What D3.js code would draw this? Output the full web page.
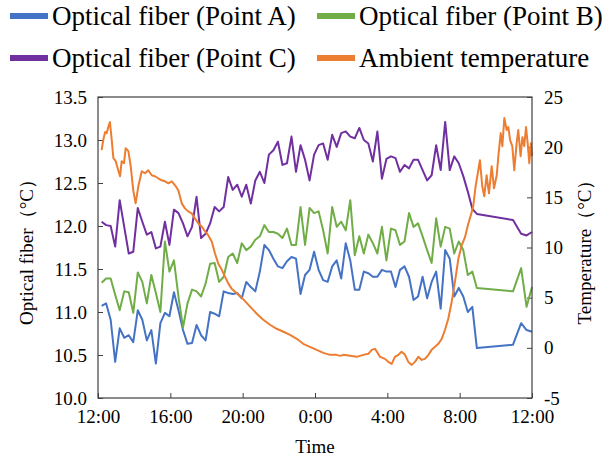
<!DOCTYPE html>
<html>
<head>
<meta charset="utf-8">
<script src="https://cdn.jsdelivr.net/npm/d3@7"></script>
<style>
  body { margin: 0; background: #fff; }
  svg text { font-family: "Liberation Serif", "Times New Roman", serif !important; fill: #000; }
</style>
</head>
<body>
<div class="canvas"></div>
<script>
// fibre readings every ~15 min (hours after 12:00), gap before the last four
const fiberHours = [
  0.2, 0.45, 0.7, 0.95, 1.2, 1.45, 1.7, 1.95, 2.2, 2.45, 2.7, 2.95, 3.2, 3.45, 3.7, 3.95,
  4.2, 4.45, 4.7, 4.95, 5.2, 5.45, 5.7, 5.95, 6.2, 6.45, 6.7, 6.95, 7.2, 7.45, 7.7, 7.95,
  8.2, 8.45, 8.7, 8.95, 9.2, 9.45, 9.7, 9.95, 10.2, 10.45, 10.7, 10.95, 11.2, 11.45, 11.7, 11.95,
  12.2, 12.45, 12.7, 12.95, 13.2, 13.45, 13.7, 13.95, 14.2, 14.45, 14.7, 14.95, 15.2, 15.45, 15.7, 15.95,
  16.2, 16.45, 16.7, 16.95, 17.2, 17.45, 17.7, 17.95, 18.2, 18.45, 18.7, 18.95, 19.2, 19.45, 19.7, 19.95,
  20.2, 20.45, 20.7, 20.95, 22.95, 23.4, 23.7, 24.0
];
const pointA = [
  11.07, 11.10, 10.91, 10.42, 10.81, 10.70, 10.73, 10.65, 11.02, 10.91, 10.67, 10.79, 10.40, 10.87, 10.99, 10.95,
  11.23, 11.02, 10.79, 10.63, 10.64, 10.85, 10.73, 10.67, 11.00, 10.98, 10.95, 11.24, 11.22, 11.21, 11.22, 11.16,
  11.35, 11.29, 11.24, 11.47, 11.78, 11.72, 11.62, 11.53, 11.51, 11.59, 11.64, 11.62, 11.21, 11.43, 11.49, 11.70,
  11.49, 11.37, 11.35, 11.53, 11.60, 11.39, 11.80, 11.60, 11.26, 11.26, 11.47, 11.45, 11.41, 11.41, 11.49, 11.47,
  11.47, 11.29, 11.49, 11.53, 11.41, 11.14, 11.18, 11.41, 11.16, 11.35, 11.47, 11.04, 11.72, 11.62, 11.18, 11.28,
  11.18, 11.00, 11.06, 10.58, 10.62, 10.87, 10.79, 10.77
];
const pointB = [
  11.34, 11.39, 11.39, 11.20, 11.02, 11.24, 11.23, 10.99, 11.46, 11.35, 11.10, 11.43, 11.22, 11.00, 11.82, 11.47,
  11.60, 11.18, 10.82, 11.10, 11.26, 11.24, 11.18, 11.33, 11.56, 11.57, 11.35, 11.41, 11.64, 11.68, 11.57, 11.80,
  11.72, 11.76, 11.84, 11.88, 12.01, 11.93, 11.93, 11.91, 11.86, 11.97, 11.78, 11.78, 12.22, 11.78, 12.21, 12.15,
  12.17, 11.95, 11.68, 12.22, 11.99, 12.05, 11.95, 12.30, 11.66, 11.88, 11.68, 11.90, 11.80, 11.68, 11.99, 11.60,
  11.97, 11.95, 11.78, 11.82, 12.15, 11.99, 12.03, 11.88, 11.72, 11.57, 12.09, 11.76, 11.99, 11.97, 11.68, 11.82,
  11.72, 11.43, 11.47, 11.28, 11.24, 11.51, 11.06, 11.29
];
const pointC = [
  12.05, 12.01, 12.00, 11.76, 12.30, 11.99, 11.68, 11.70, 12.21, 12.05, 11.90, 11.93, 11.74, 11.76, 12.05, 11.78,
  12.19, 12.15, 12.03, 11.88, 11.99, 12.34, 11.86, 11.91, 12.03, 12.22, 12.17, 12.22, 12.57, 12.42, 12.48, 12.34,
  12.48, 12.26, 12.53, 12.63, 12.50, 12.83, 12.88, 12.98, 12.71, 12.73, 13.04, 12.63, 12.94, 12.77, 12.53, 12.83,
  12.94, 12.96, 12.77, 13.06, 12.92, 13.08, 13.10, 13.04, 13.02, 13.14, 13.00, 12.96, 12.75, 13.10, 12.55, 12.78,
  12.81, 12.79, 12.63, 12.71, 12.67, 12.77, 12.77, 12.65, 12.53, 12.59, 12.94, 12.65, 13.21, 12.65, 12.81, 12.73,
  12.58, 12.40, 12.20, 12.14, 12.07, 11.91, 11.89, 11.93
];

// ambient temperature, denser record
const ambientHours = [
  0.20, 0.29, 0.39, 0.48, 0.57, 0.66, 0.76, 0.85, 0.98, 1.12, 1.22, 1.31, 1.44, 1.53, 1.68, 1.81,
  1.95, 2.08, 2.23, 2.42, 2.60, 2.78, 2.97, 3.15, 3.33, 3.52, 3.71, 3.89, 4.08, 4.26, 4.44, 4.63,
  4.81, 4.99, 5.18, 5.36, 5.55, 5.73, 5.92, 6.10, 6.29, 6.47, 6.65, 6.84, 7.02, 7.21, 7.39, 7.58,
  7.76, 7.95, 8.41, 8.78, 9.14, 9.51, 9.88, 10.25, 10.62, 10.99, 11.35, 11.72, 12.09, 12.46,
  12.83, 13.20, 13.38, 13.57, 13.94, 14.31, 14.67, 14.95, 15.14, 15.32, 15.60, 15.87, 16.05, 16.24,
  16.42, 16.61, 16.79, 16.98, 17.16, 17.35, 17.53, 17.71, 17.90, 18.08, 18.27, 18.45, 18.64, 18.82,
  19.01, 19.19, 19.37, 19.56, 19.74, 19.93, 20.11, 20.29, 20.48, 20.63, 20.75, 20.88, 21.03, 21.12,
  21.25, 21.36, 21.49, 21.62, 21.77, 21.90, 22.05, 22.14, 22.27, 22.36, 22.47, 22.60, 22.69, 22.79,
  22.91, 23.02, 23.15, 23.24, 23.37, 23.47, 23.57, 23.67, 23.76, 23.85, 23.94, 24.00
];
const ambientTemp = [
  19.7, 20.7, 21.5, 21.4, 22.0, 22.5, 20.7, 18.9, 18.6, 17.7, 17.1, 18.6, 18.4, 19.9, 19.6, 18.1,
  15.7, 14.4, 16.1, 17.6, 17.4, 17.7, 17.2, 17.1, 16.9, 16.7, 16.6, 16.4, 16.6, 16.2, 15.7, 14.4,
  13.9, 13.6, 13.4, 12.9, 12.4, 12.1, 11.6, 11.2, 10.6, 9.4, 8.4, 7.8, 7.1, 6.4, 5.9, 5.6,
  5.3, 5.0, 4.1, 3.4, 2.8, 2.3, 1.9, 1.6, 1.3, 0.9, 0.4, 0.1, -0.2, -0.5,
  -0.7, -0.7, -0.8, -0.7, -0.8, -0.9, -0.7, -0.6, -0.2, -0.1, -0.9, -1.1, -1.4, -1.6,
  -0.9, -0.7, -0.4, -0.7, -1.4, -1.7, -1.4, -0.9, -1.2, -1.1, -0.7, -0.2, 0.1, 0.4,
  0.9, 1.8, 2.9, 4.6, 6.6, 8.9, 10.2, 11.0, 12.4, 13.3, 14.1, 16.1, 17.7, 18.7,
  16.1, 15.1, 17.2, 15.4, 18.1, 15.9, 17.2, 19.1, 21.4, 20.1, 22.9, 21.7, 22.0, 20.7,
  20.1, 17.7, 20.4, 21.7, 19.1, 21.0, 20.1, 22.0, 20.4, 18.4, 20.4, 19.1
];

const timeTicks = [0, 4, 8, 12, 16, 20, 24];
const timeLabels = ["12:00", "16:00", "20:00", "0:00", "4:00", "8:00", "12:00"];
const fiberTicks = [10, 10.5, 11, 11.5, 12, 12.5, 13, 13.5];
const tempTicks = [-5, 0, 5, 10, 15, 20, 25];

const seriesNames = [
  "Optical fiber (Point A)", "Optical fiber (Point B)",
  "Optical fiber (Point C)", "Ambient temperature"
];
const colors = ["#4472C4", "#70AD47", "#7030A0", "#ED7D31"];

const serif = '"Liberation Serif", "Times New Roman", serif';
const margin = { top: 97, right: 79, bottom: 63, left: 98 };
const width = 611, height = 461;
const graphWidth = width - margin.left - margin.right;
const graphHeight = height - margin.top - margin.bottom;

const svg = d3.select(".canvas").append("svg")
  .attr("width", width)
  .attr("height", height)
  .attr("font-family", serif);

const graph = svg.append("g")
  .attr("transform", `translate(${margin.left},${margin.top})`);

const x = d3.scaleLinear().domain([0, 24]).range([0, graphWidth]);
const yL = d3.scaleLinear().domain([10, 13.5]).range([graphHeight, 0]);
const yR = d3.scaleLinear().domain([-5, 25]).range([graphHeight, 0]);

// axes, ticks pointing inwards
const xAxis = d3.axisBottom(x).tickValues(timeTicks)
  .tickFormat((d, i) => timeLabels[i]).tickSizeInner(-5).tickSizeOuter(0).tickPadding(12);
const yAxisL = d3.axisLeft(yL).tickValues(fiberTicks)
  .tickFormat(d3.format(".1f")).tickSizeInner(-5).tickSizeOuter(0).tickPadding(11);
const yAxisR = d3.axisRight(yR).tickValues(tempTicks)
  .tickFormat((d) => String(d)).tickSizeInner(-5).tickSizeOuter(0).tickPadding(12);

const styleAxis = (g) => {
  g.attr("font-family", serif);
  g.select(".domain").remove();
  g.selectAll("line").attr("stroke", "#404040");
  g.selectAll("text").attr("font-size", 19).style("font-family", serif).attr("fill", "#000");
};

graph.append("g").attr("transform", `translate(0,${graphHeight})`).call(xAxis).call(styleAxis);
graph.append("g").call(yAxisL).call(styleAxis);
graph.append("g").attr("transform", `translate(${graphWidth},0)`).call(yAxisR).call(styleAxis);

// lines
const lineL = d3.line().x((d) => x(d[0])).y((d) => yL(d[1]));
const lineR = d3.line().x((d) => x(d[0])).y((d) => yR(d[1]));

[pointA, pointB, pointC].forEach((vals, i) => {
  graph.append("path")
    .datum(fiberHours.map((h, j) => [h, vals[j]]))
    .attr("fill", "none")
    .attr("stroke", colors[i])
    .attr("stroke-width", 2)
    .attr("stroke-linejoin", "round")
    .attr("d", lineL);
});

graph.append("path")
  .datum(ambientHours.map((h, j) => [h, ambientTemp[j]]))
  .attr("fill", "none")
  .attr("stroke", colors[3])
  .attr("stroke-width", 2)
  .attr("stroke-linejoin", "round")
  .attr("d", lineR);

// frame
graph.append("rect")
  .attr("width", graphWidth)
  .attr("height", graphHeight)
  .attr("fill", "none")
  .attr("stroke", "#404040")
  .attr("stroke-width", 1.2);

// axis titles
svg.append("text")
  .attr("transform", `translate(33,${margin.top + graphHeight / 2}) rotate(-90)`)
  .attr("text-anchor", "middle")
  .attr("font-size", 19)
  .style("font-family", serif)
  .text("Optical fiber（°C）");

svg.append("text")
  .attr("transform", `translate(591,${margin.top + graphHeight / 2}) rotate(-90)`)
  .attr("text-anchor", "middle")
  .attr("font-size", 19)
  .style("font-family", serif)
  .text("Temperature（°C）");

svg.append("text")
  .attr("x", margin.left + graphWidth / 2)
  .attr("y", 453)
  .attr("text-anchor", "middle")
  .attr("font-size", 19)
  .style("font-family", serif)
  .text("Time");

// legend
const legendPos = [[10, 16], [317, 16], [10, 58], [317, 58]];
const legend = svg.append("g");
seriesNames.forEach((name, i) => {
  const [lx, ly] = legendPos[i];
  legend.append("rect")
    .attr("x", lx).attr("y", ly - 3)
    .attr("width", 38).attr("height", 6)
    .attr("fill", colors[i]);
  legend.append("text")
    .attr("x", lx + 42).attr("y", ly + 9)
    .attr("font-size", 27)
    .style("font-family", serif)
    .text(name);
});
</script>
</body>
</html>
